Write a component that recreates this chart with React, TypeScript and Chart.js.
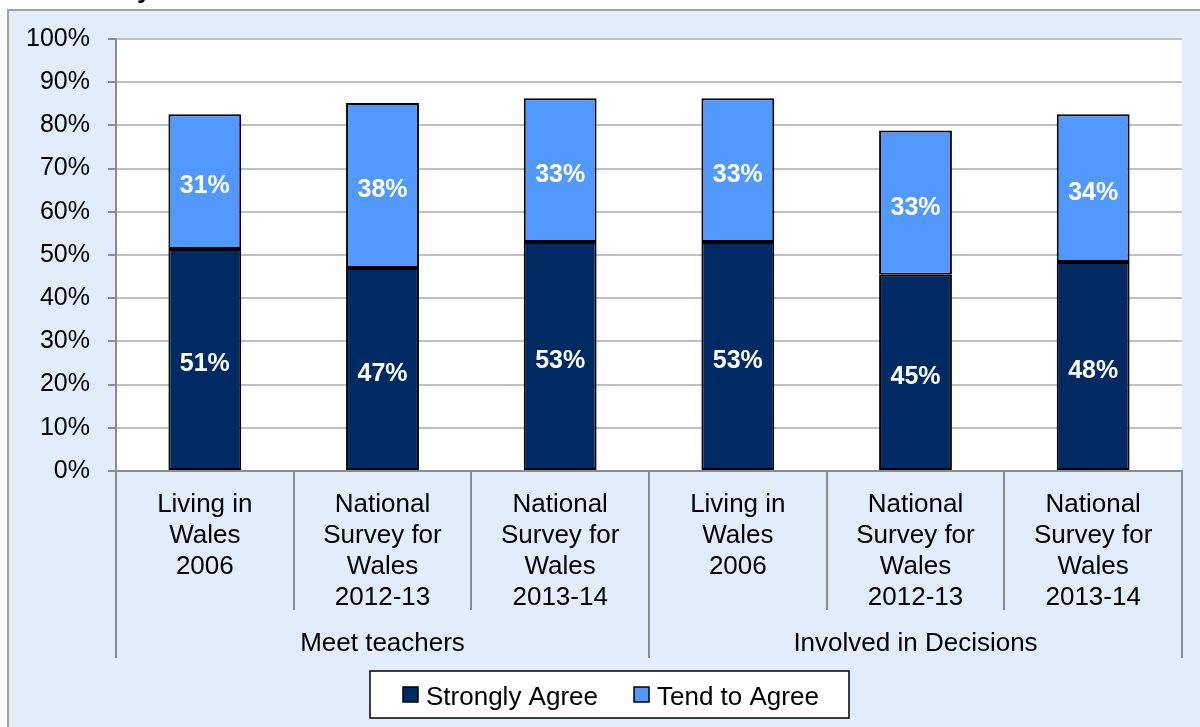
import { useEffect, useRef } from "react";
import Chart from "chart.js/auto";

const categories = [
  ["Living in", "Wales", "2006"],
  ["National", "Survey for", "Wales", "2012-13"],
  ["National", "Survey for", "Wales", "2013-14"],
  ["Living in", "Wales", "2006"],
  ["National", "Survey for", "Wales", "2012-13"],
  ["National", "Survey for", "Wales", "2013-14"],
];
const groups = ["Meet teachers", "Involved in Decisions"];
const stronglyAgree = [51.4, 47.0, 53.0, 53.0, 45.4, 48.4];
const tendToAgree = [31.2, 38.2, 33.3, 33.3, 33.4, 34.2];

const FONT = "'Liberation Sans', Arial, sans-serif";
const GREY = "#8c8c8c";

const decorations = {
  id: "decorations",
  beforeDraw(chart: any) {
    const { ctx, chartArea, width, height } = chart;
    ctx.save();
    ctx.fillStyle = "#ffffff";
    ctx.fillRect(0, 0, width, height);
    // outer panel
    ctx.fillStyle = "#e1edfb";
    ctx.fillRect(8, 10, width - 8, height - 10);
    ctx.strokeStyle = "#a0a0a0";
    ctx.lineWidth = 2;
    ctx.beginPath();
    ctx.moveTo(8, height);
    ctx.lineTo(8, 10);
    ctx.lineTo(width, 10);
    ctx.stroke();
    // cropped title fragment
    ctx.fillStyle = "#000";
    ctx.font = `bold 26px ${FONT}`;
    ctx.textBaseline = "alphabetic";
    ctx.fillText("y", 137, -2);
    // plot area
    ctx.fillStyle = "#ffffff";
    ctx.fillRect(chartArea.left, chartArea.top, chartArea.right - chartArea.left, chartArea.bottom - chartArea.top);
    ctx.restore();
  },
  afterDatasetsDraw(chart: any) {
    const { ctx } = chart;
    ctx.save();
    ctx.fillStyle = "#ffffff";
    ctx.font = `bold 25px ${FONT}`;
    ctx.textAlign = "center";
    ctx.textBaseline = "middle";
    chart.data.datasets.forEach((ds: any, i: number) => {
      const meta = chart.getDatasetMeta(i);
      meta.data.forEach((bar: any, j: number) => {
        const v = ds.data[j];
        ctx.fillText(Math.round(v) + "%", bar.x, (bar.y + bar.base) / 2 + 5);
      });
    });
    ctx.restore();
  },
  afterDraw(chart: any) {
    const { ctx, chartArea } = chart;
    const n = categories.length;
    const w = (chartArea.right - chartArea.left) / n;
    ctx.save();
    ctx.strokeStyle = GREY;
    ctx.lineWidth = 2;
    for (let k = 0; k <= n; k++) {
      const x = Math.round(chartArea.left + k * w);
      ctx.beginPath();
      ctx.moveTo(x, chartArea.bottom);
      ctx.lineTo(x, k % 3 === 0 ? 658 : 610);
      ctx.stroke();
    }
    ctx.fillStyle = "#000";
    ctx.font = `26px ${FONT}`;
    ctx.textAlign = "center";
    ctx.textBaseline = "middle";
    groups.forEach((g, i) => {
      const cx = chartArea.left + (i * 3 + 1.5) * w;
      ctx.fillText(g, cx, 644);
    });

    // legend
    const bx = 370, by = 671, bw = 479, bh = 47;
    ctx.fillStyle = "#ffffff";
    ctx.fillRect(bx, by, bw, bh);
    ctx.strokeStyle = "#000";
    ctx.lineWidth = 1.5;
    ctx.strokeRect(bx, by, bw, bh);
    ctx.textAlign = "left";
    const starts = [403, 634];
    chart.data.datasets.forEach((ds: any, i: number) => {
      const sx = starts[i];
      ctx.fillStyle = ds.backgroundColor;
      ctx.fillRect(sx, 687, 15, 15);
      ctx.strokeStyle = "#000";
      ctx.lineWidth = 1.5;
      ctx.strokeRect(sx, 687, 15, 15);
      ctx.fillStyle = "#000";
      ctx.fillText(ds.label, sx + 23, 698);
    });
    ctx.restore();
  },
};

const App = () => {
  const chartRef = useRef<HTMLCanvasElement | null>(null);

  useEffect(() => {
    if (!chartRef.current) return;
    const myChart = new Chart(chartRef.current, {
      type: "bar",
      data: {
        labels: categories,
        datasets: [
          {
            label: "Strongly Agree",
            data: stronglyAgree,
            backgroundColor: "#002a64",
            borderColor: "#000000",
            borderWidth: 2,
            borderSkipped: false,
            categoryPercentage: 1,
            barPercentage: 0.41,
          },
          {
            label: "Tend to Agree",
            data: tendToAgree,
            backgroundColor: "#5299ff",
            borderColor: "#000000",
            borderWidth: 2,
            borderSkipped: false,
            categoryPercentage: 1,
            barPercentage: 0.41,
          },
        ],
      },
      options: {
        responsive: true,
        maintainAspectRatio: false,
        animation: false,
        layout: { padding: { left: 0, top: 39, right: 18, bottom: 66 } },
        plugins: {
          legend: { display: false },
          tooltip: { enabled: false },
        },
        scales: {
          x: {
            stacked: true,
            grid: { display: false, drawTicks: false },
            border: { display: true, color: GREY, width: 2 },
            ticks: {
              color: "#000",
              font: { family: FONT, size: 26, lineHeight: 1.2 },
              padding: 18,
              maxRotation: 0,
              autoSkip: false,
            },
            afterFit: (scale: any) => {
              scale.height = 190;
            },
          },
          y: {
            stacked: true,
            min: 0,
            max: 100,
            grid: { color: "#c0c0c0", lineWidth: 2, tickColor: GREY, tickLength: 8 },
            border: { display: true, color: GREY, width: 2 },
            ticks: {
              stepSize: 10,
              color: "#000",
              font: { family: FONT, size: 25 },
              padding: 18,
              callback: (v: any) => v + "%",
            },
            afterFit: (scale: any) => {
              scale.width = 116;
            },
          },
        },
      },
      plugins: [decorations],
    });

    return () => {
      myChart.destroy();
    };
  }, []);

  return (
    <div style={{ position: "absolute", left: 0, top: 0, width: 1200, height: 727 }}>
      <canvas ref={chartRef} />
    </div>
  );
};

export default App;
